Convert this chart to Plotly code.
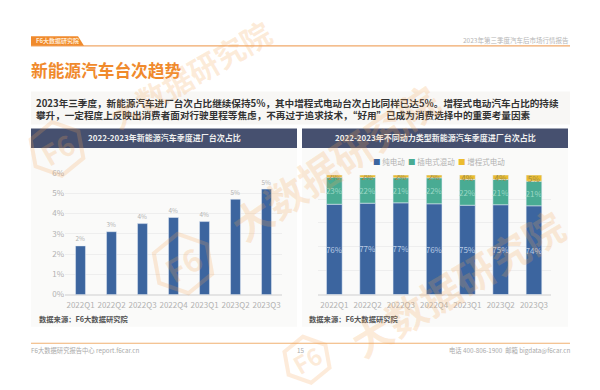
import math
import plotly.graph_objects as go

FONT = "Noto Sans CJK SC"
quarters = ["2022Q1", "2022Q2", "2022Q3", "2022Q4", "2023Q1", "2023Q2", "2023Q3"]
share = [2.4, 3.1, 3.5, 3.8, 3.6, 4.7, 5.2]
bev = [75.6, 76.5, 76.8, 76.0, 74.8, 75.2, 74.3]
phev = [22.6, 21.5, 21.0, 21.7, 21.6, 21.1, 20.6]
erev = [1.8, 2.0, 2.2, 2.3, 3.6, 3.7, 5.1]
series_names = ["纯电动", "插电式混动", "增程式电动"]
page_title = "新能源汽车台次趋势"
summary = ("2023年三季度，新能源汽车进厂台次占比继续保持5%，其中增程式电动台次占比同样已达5%。增程式电动汽车占比的持续<br>"
           "攀升，一定程度上反映出消费者面对行驶里程等焦虑，不再过于追求技术，“好用”已成为消费选择中的重要考量因素")
left_title = "2022-2023年新能源汽车季度进厂台次占比"
right_title = "2022-2023年不同动力类型新能源汽车季度进厂台次占比"
source = "数据来源：F6大数据研究院"
BLUE, TEAL, YELLOW = "#3c659f", "#49ab93", "#ecbc2e"
ORANGE = "#f08a2c"
GRAY = "#b2b2b2"
WM = "rgba(245,165,85,0.22)"

W, H = 600, 390
def px(x): return x / W
def py(y): return 1 - y / H

fig = go.Figure()
fig.add_trace(go.Bar(x=quarters, y=share, xaxis="x", yaxis="y", marker_color=BLUE, width=0.32,
                     text=share, texttemplate="%{y:.0f}%", textposition="outside", cliponaxis=False,
                     textfont=dict(size=8, color=GRAY), showlegend=False))
label_colors = ["#b9cbe4", "#9bd8c6", "#a08c4a"]
for name, vals, col, lc in zip(series_names, [bev, phev, erev], [BLUE, TEAL, YELLOW], label_colors):
    fig.add_trace(go.Bar(x=quarters, y=vals, name=name, xaxis="x2", yaxis="y2", marker_color=col, width=0.47,
                         text=vals, texttemplate="%{y:.0f}%", textposition="inside", insidetextanchor="middle",
                         textangle=0, constraintext="none", showlegend=False,
                         textfont=dict(size=8, color=lc)))

def rect(x0, y0, x1, y1, color, **kw):
    return dict(type="rect", xref="paper", yref="paper", x0=px(x0), x1=px(x1), y0=py(y0), y1=py(y1),
                fillcolor=color, line_width=0, layer="below", **kw)

def hexagon(cx, cy, r):
    pts = [(cx + r * math.cos(math.radians(a)), cy + r * math.sin(math.radians(a))) for a in (-100, -40, 20, 80, 140, 200)]
    path = "M " + " L ".join(f"{px(x):.4f} {py(y):.4f}" for x, y in pts) + " Z"
    return dict(type="path", xref="paper", yref="paper", layer="above", path=path,
                line=dict(color=WM, width=4), fillcolor="rgba(0,0,0,0)")

logos = [(57, 147, 28), (183, 265, 31), (307, 364, 24)]

shapes = [
    rect(31, 88, 570, 122, "#f8f7f5"),
    rect(31, 146, 297, 330, "#fafaf9"),
    rect(302, 146, 568, 330, "#fafaf9"),
    rect(31, 126, 297, 146, "#46506f"),
    rect(302, 126, 568, 146, "#46506f"),
    rect(31, 40.4, 570, 41.6, "#f0a868"),
    rect(31, 346.4, 570, 347.6, "#f0b070"),
    dict(type="path", xref="paper", yref="paper", layer="below", line_width=0, fillcolor=ORANGE,
         path=f"M {px(31)} {py(31)} L {px(78)} {py(31)} L {px(84)} {py(41)} L {px(31)} {py(41)} Z"),
] + [hexagon(*l) for l in logos]

def note(x, y, text, size, color, anchor="left", bold=False, **kw):
    if bold:
        text = f"<b>{text}</b>"
    shift = {"left": -2, "right": 2, "center": 0}[anchor]
    return dict(xref="paper", yref="paper", x=px(x), y=py(y), text=text, showarrow=False, xanchor=anchor,
                xshift=shift, yanchor="middle", font=dict(family=FONT, size=size, color=color), **kw)

annotations = [
    note(36, 36, "F6大数据研究院", 6, "#ffe9d2", bold=True),
    note(569, 35, "2023年第三季度汽车后市场行情报告", 6.5, "#b5b5b5", "right"),
    note(31, 66, page_title, 16.7, ORANGE, bold=True),
    note(36, 106, summary, 9.6, "#333333", align="left", bold=True),
    note(164, 135, left_title, 8, "#f0f0f0", "center", bold=True),
    note(435, 135, right_title, 8, "#f0f0f0", "center", bold=True),
    note(39, 322, source, 7.3, "#555555", bold=True),
    note(309, 322, source, 7.3, "#555555", bold=True),
    note(31, 355, "F6大数据研究报告中心 report.f6car.cn", 6.3, "#aaaaaa"),
    note(300, 355, "15", 6.3, "#aaaaaa", "center"),
    note(570, 355, "电话 400-806-1900  邮箱 bigdata@f6car.cn", 6.3, "#aaaaaa", "right"),
]
# legend drawn as text, small square + name
for x, name, col in zip([373, 408, 458], series_names, [BLUE, TEAL, YELLOW]):
    annotations.append(note(x, 160, f'<span style="color:{col}">■</span> {name}', 7.5, GRAY))
# watermark
for x, y, t, s, a in [(190, 70, "大数据研究院", 30, -30), (335, 161, "大数据研究院", 40, -34),
                      (457, 285, "大数据研究院", 40, -31)]:
    annotations.append(note(x, y, t, s, WM, "center", bold=True, textangle=a))
for cx, cy, r in logos:
    annotations.append(note(cx, cy, "F6", r, WM, "center", bold=True, textangle=-30))

axis_common = dict(tickfont=dict(family=FONT, size=8, color=GRAY), showline=False)
xt = dict(ticks="outside", ticklen=3, tickcolor="rgba(0,0,0,0)")
fig.update_layout(
    width=W, height=H, margin=dict(l=0, r=0, t=0, b=0), paper_bgcolor="white", plot_bgcolor="rgba(0,0,0,0)",
    barmode="relative", showlegend=False, font=dict(family=FONT),
    shapes=shapes, annotations=annotations,
    xaxis=dict(domain=[px(65), px(282)], anchor="y", showgrid=False, **axis_common, **xt),
    yaxis=dict(domain=[py(297), py(171.7)], anchor="x", range=[0, 6], dtick=1, ticksuffix="%", ticks="",
               gridcolor="#eeeeee", gridwidth=1, zeroline=True, zerolinecolor="#e4e4e4", **axis_common),
    xaxis2=dict(domain=[px(317.7), px(550.6)], anchor="y2", showgrid=False, **axis_common, **xt),
    yaxis2=dict(domain=[py(297), py(174)], anchor="x2", range=[0, 100], dtick=20, showticklabels=False, ticks="",
                gridcolor="#eeeeee", gridwidth=1, zeroline=True, zerolinecolor="#e4e4e4", **axis_common),
)
fig.write_html("out.html", config={"displayModeBar": False}, post_script="document.body.style.margin='0';")
